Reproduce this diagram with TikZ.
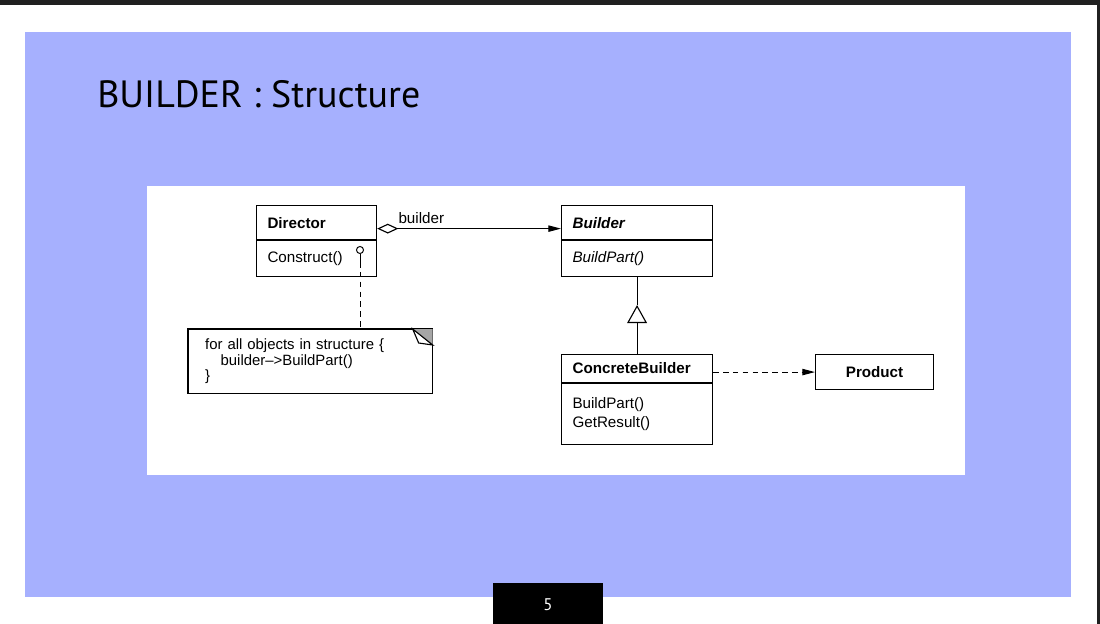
\documentclass[tikz,border=0pt]{standalone}
\usepackage{fontspec}
\setmainfont{Liberation Sans}
\newfontfamily\titlefont{PT Sans}
\usetikzlibrary{calc,arrows.meta,positioning}
\definecolor{slideblue}{RGB}{166,176,254}
\definecolor{darkbar}{RGB}{32,32,32}

\begin{document}
\begin{tikzpicture}[x=0.025cm, y=-0.025cm,
  umlhead/.style={draw, line width=0.8pt, anchor=north west, inner xsep=7.8pt, inner ysep=0pt,
    text width=#1, align=left, font=\bfseries\fontsize{10.8}{13}\selectfont},
  umlbody/.style={draw, line width=0.8pt, inner xsep=7.8pt, inner ysep=0pt,
    text width=#1, align=left, font=\fontsize{10.8}{13.5}\selectfont},
  umlline/.style={line width=0.8pt}]
\useasboundingbox (0,0) rectangle (1100,624);

%slide background
\fill[white] (0,0) rectangle (1100,624);
\fill[darkbar] (0,0) rectangle (1100,5);
\fill[darkbar] (1097,0) rectangle (1100,624);
\fill[slideblue] (25,32) rectangle (1071,597);
\node[anchor=base west, inner sep=0pt, font=\titlefont\fontsize{27}{32}\selectfont] (title) at (97,108) {BUILDER : Structure};

%picture area
\fill[white] (147,186) rectangle (965,475);

%page number
\fill[black] (493,583) rectangle (603,624);
\node[text=white, font=\titlefont\fontsize{12}{13}\selectfont] (pagenum) at (548,605) {5};

%Director class
\node[umlhead=69.8pt, minimum height=24.2pt] (dirhead) at (256,205) {Director};
\node[umlbody=69.8pt, minimum height=25.6pt, below=0pt of dirhead] (dirbody) {Construct()};

%Builder class
\node[umlhead=91.8pt, minimum height=24.2pt, font=\bfseries\itshape\fontsize{10.8}{13}\selectfont] (bldhead) at (561,205) {Builder};
\node[umlbody=91.8pt, minimum height=25.6pt, below=0pt of bldhead, font=\itshape\fontsize{10.8}{13}\selectfont] (bldbody) {BuildPart()};

%ConcreteBuilder class
\node[umlhead=91.8pt, minimum height=19.9pt] (cbhead) at (561,354) {ConcreteBuilder};
\node[umlbody=91.8pt, minimum height=43.4pt, below=0pt of cbhead] (cbbody) {BuildPart()\\GetResult()};

%Product class
\node[draw, line width=0.8pt, anchor=north west, minimum width=83.9pt, minimum height=24.9pt,
  font=\bfseries\fontsize{10.8}{13}\selectfont] (product) at (815,354) {Product};

%note
\node[anchor=north west, minimum width=173.6pt, minimum height=45.5pt, inner xsep=12pt,
  text width=149.6pt, align=left, font=\fontsize{10.6}{11.2}\selectfont] (note) at (188,329)
  {for all objects in structure \{\\\hspace*{11pt}builder\textendash{}>BuildPart()\\\}};
\draw[umlline] (note.north west) -- (note.north east) -- (note.south east) -- (note.south west) -- cycle;
\fill[gray!70] ($(note.north east)+(-20,0)$) -- (note.north east) -- ($(note.north east)+(0,16)$) -- cycle;
\draw[umlline, fill=white] ($(note.north east)+(-20,0)$) -- ($(note.north east)+(-14,14)$) -- ($(note.north east)+(0,16)$) -- cycle;

%note anchor on Construct()
\node[circle, draw, line width=0.7pt, inner sep=0pt, minimum size=5pt] (pin) at (360,250) {};
\coordinate (pinend) at ($(pin.south)+(0,8)$);
\draw[line width=0.7pt] (pin.south) -- (pinend);
\draw[line width=0.7pt, dash pattern=on 4pt off 3pt] (pinend) -- (pinend |- note.north);

%aggregation Director -> Builder
\draw[umlline, {Diamond[open, length=15pt, width=7pt]}-{Triangle[length=9pt, width=4.5pt]}]
  ([yshift=-4.3pt]dirhead.east) -- ([yshift=-4.3pt]bldhead.west)
  node[pos=0.24, above, inner sep=3pt, font=\fontsize{10.8}{13}\selectfont] (rolelabel) {builder};

%inheritance ConcreteBuilder -> Builder
\coordinate (tip) at (bldbody.south |- 0,305);
\draw[umlline] (bldbody.south) -- (tip);
\draw[umlline, {Triangle[open, length=12.8pt, width=14pt]}-] (tip) -- (cbhead.north);

%ConcreteBuilder creates Product
\draw[umlline, dash pattern=on 4pt off 3pt, -{Triangle[length=9pt, width=4.5pt]}]
  (cbhead.east |- product.west) -- (product.west);

\end{tikzpicture}
\end{document}
